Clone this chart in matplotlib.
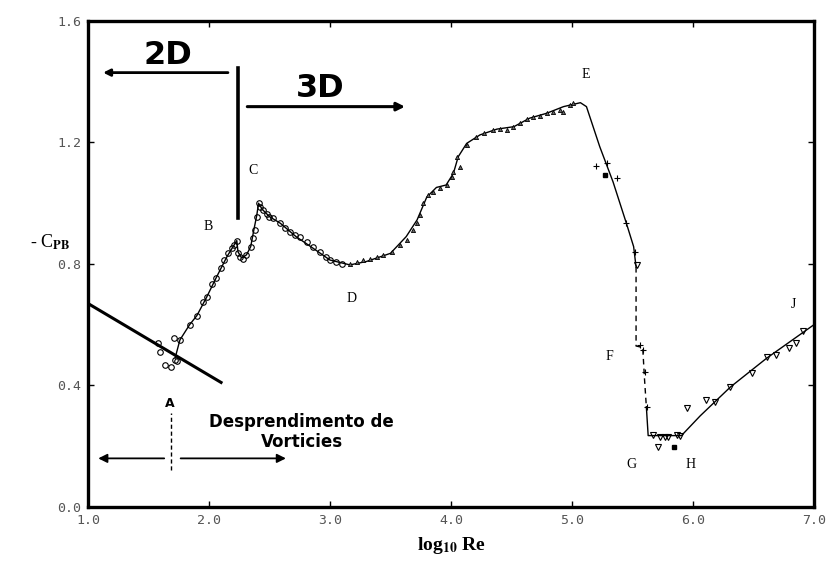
import matplotlib
matplotlib.use("Agg")
import matplotlib.pyplot as plt
import numpy as np

plt.rcParams["mathtext.fontset"] = "stix"

# fitted curve, log10(Re) vs -Cpb
curve_x = [1.72, 1.76, 1.84, 1.90, 1.98, 2.06, 2.15, 2.23, 2.24, 2.27, 2.31, 2.345, 2.37, 2.395, 2.41,
           2.44, 2.50, 2.59, 2.72, 2.86, 3.00, 3.165, 3.30, 3.50, 3.63, 3.72, 3.80, 3.88, 3.96, 4.02,
           4.06, 4.13, 4.24, 4.38, 4.52, 4.65, 4.79, 4.93, 5.07, 5.12, 5.23, 5.34, 5.45, 5.51, 5.53]
curve_y = [0.49, 0.55, 0.60, 0.63, 0.69, 0.755, 0.825, 0.877, 0.84, 0.82, 0.83, 0.857, 0.91, 0.96, 1.0,
           0.98, 0.956, 0.934, 0.89, 0.852, 0.813, 0.797, 0.808, 0.835, 0.89, 0.945, 1.02, 1.052, 1.06, 1.098,
           1.153, 1.197, 1.225, 1.244, 1.252, 1.28, 1.296, 1.318, 1.331, 1.318, 1.186, 1.07, 0.934, 0.857, 0.79]
crisis_x = [5.53, 5.53, 5.585, 5.60, 5.615]
crisis_y = [0.79, 0.53, 0.525, 0.42, 0.33]
tail_x = [5.615, 5.63, 5.905, 6.06, 6.31, 6.61, 7.0]
tail_y = [0.33, 0.235, 0.235, 0.30, 0.395, 0.49, 0.60]

# measured points
circ_x = [1.58, 1.595, 1.636, 1.69, 1.71, 1.72, 1.74, 1.76, 1.843, 1.90, 1.947, 1.98, 2.027, 2.06, 2.096,
          2.124, 2.16, 2.187, 2.207, 2.229, 2.237, 2.256, 2.284, 2.31, 2.344, 2.366, 2.38, 2.394, 2.41,
          2.42, 2.443, 2.476, 2.50, 2.53, 2.587, 2.628, 2.67, 2.71, 2.75, 2.81, 2.862, 2.917, 2.97, 3.0,
          3.05, 3.10]
circ_y = [0.539, 0.511, 0.467, 0.46, 0.555, 0.484, 0.48, 0.55, 0.599, 0.63, 0.676, 0.69, 0.734, 0.755, 0.786,
          0.813, 0.835, 0.852, 0.862, 0.877, 0.837, 0.824, 0.818, 0.83, 0.857, 0.884, 0.912, 0.956, 1.0,
          0.989, 0.978, 0.963, 0.956, 0.95, 0.934, 0.92, 0.906, 0.895, 0.89, 0.873, 0.857, 0.84, 0.824, 0.813,
          0.806, 0.80]
tri_x = [3.165, 3.22, 3.275, 3.33, 3.386, 3.44, 3.51, 3.58, 3.633, 3.69, 3.716, 3.744, 3.77, 3.81, 3.854,
         3.91, 3.964, 4.005, 4.02, 4.074, 4.047, 4.13, 4.21, 4.27, 4.35, 4.405, 4.46, 4.515, 4.57, 4.625,
         4.68, 4.735, 4.79, 4.845, 4.90, 4.93, 4.98, 5.01]
tri_y = [0.80, 0.808, 0.813, 0.818, 0.824, 0.83, 0.84, 0.862, 0.879, 0.912, 0.934, 0.961, 1.0, 1.027, 1.038,
         1.049, 1.06, 1.087, 1.104, 1.12, 1.153, 1.192, 1.219, 1.23, 1.24, 1.244, 1.24, 1.252, 1.263, 1.276,
         1.283, 1.287, 1.296, 1.301, 1.308, 1.30, 1.323, 1.329]
plus_x = [5.203, 5.29, 5.37, 5.45, 5.52, 5.56, 5.59, 5.60, 5.62]
plus_y = [1.122, 1.131, 1.082, 0.934, 0.84, 0.533, 0.517, 0.445, 0.33]
itri_x = [5.535, 5.67, 5.727, 5.77, 5.795, 5.865, 5.89, 5.71, 5.95, 6.107, 6.18, 6.306, 6.485, 6.61,
          6.69, 6.79, 6.85, 6.906]
itri_y = [0.797, 0.237, 0.232, 0.232, 0.232, 0.237, 0.234, 0.199, 0.325, 0.352, 0.347, 0.396, 0.44, 0.495,
          0.50, 0.522, 0.541, 0.579]
sq_x = [5.27, 5.84]
sq_y = [1.093, 0.199]

# laminar trend line through A
lam_x = [1.0, 2.10]
lam_y = [0.67, 0.41]

point_labels = {"B": (1.99, 0.925), "C": (2.364, 1.109), "D": (3.18, 0.688), "E": (5.116, 1.425),
                "F": (5.31, 0.497), "G": (5.49, 0.14), "H": (5.98, 0.14), "J": (6.83, 0.665)}

xticks = [1.0, 2.0, 3.0, 4.0, 5.0, 6.0, 7.0]
yticks = [0.0, 0.4, 0.8, 1.2, 1.6]

fig = plt.figure(figsize=(8.33, 5.64), dpi=100)
ax = fig.add_axes([0.1056, 0.1011, 0.8715, 0.8617])

ax.plot(curve_x, curve_y, "-", color="black", lw=1.0)
ax.plot(crisis_x, crisis_y, "--", color="black", lw=1.0, dashes=(4, 3))
ax.plot(tail_x, tail_y, "-", color="black", lw=1.0)
ax.plot(lam_x, lam_y, "-", color="black", lw=2.2)

ax.plot(circ_x, circ_y, "o", mfc="none", mec="black", ms=4, mew=0.8)
ax.plot(tri_x, tri_y, "^", mfc="#666666", mec="black", ms=3, mew=0.6)
ax.plot(plus_x, plus_y, "+", color="black", ms=4, mew=0.8)
ax.plot(itri_x, itri_y, "v", mfc="none", mec="black", ms=5, mew=0.8)
ax.plot(sq_x, sq_y, "s", color="black", ms=2.5)

for name, (px, py) in point_labels.items():
    ax.text(px, py, name, fontsize=10, family="Liberation Serif", ha="center", va="center")

# 2D / 3D regime markers
ax.annotate("", xy=(1.125, 1.43), xytext=(2.157, 1.43),
            arrowprops=dict(arrowstyle="-|>", lw=2, color="black", mutation_scale=10,
                            shrinkA=0, shrinkB=0))
ax.annotate("", xy=(3.62, 1.318), xytext=(2.317, 1.318),
            arrowprops=dict(arrowstyle="-|>", lw=2.2, color="black", mutation_scale=12,
                            shrinkA=0, shrinkB=0))
ax.plot([2.242, 2.242], [0.95, 1.445], "-", color="black", lw=2.6)
ax.text(1.66, 1.488, "2D", fontsize=23, fontweight="bold", ha="center", va="center")
ax.text(2.917, 1.378, "3D", fontsize=23, fontweight="bold", ha="center", va="center")

# vortex shedding onset
ax.text(1.678, 0.341, "A", fontsize=9, fontweight="bold", ha="center", va="center")
ax.plot([1.69, 1.69], [0.122, 0.308], "--", color="black", lw=1, dashes=(3, 2))
ax.annotate("", xy=(1.085, 0.16), xytext=(1.63, 0.16),
            arrowprops=dict(arrowstyle="-|>", lw=1.3, color="black", mutation_scale=13,
                            shrinkA=0, shrinkB=0))
ax.annotate("", xy=(2.636, 0.16), xytext=(1.766, 0.16),
            arrowprops=dict(arrowstyle="-|>", lw=1.3, color="black", mutation_scale=13,
                            shrinkA=0, shrinkB=0))
ax.text(2.766, 0.248, "Desprendimento de\nVorticies", fontsize=12, fontweight="bold",
        ha="center", va="center", linespacing=1.15)

ax.set_xlim(1.0, 7.0)
ax.set_ylim(0.0, 1.6)
ax.set_xticks(xticks)
ax.set_yticks(yticks)
ax.set_xticklabels([f"{t:.1f}" for t in xticks], family="DejaVu Sans Mono", color="#555555", fontsize=9.5)
ax.set_yticklabels([f"{t:.1f}" for t in yticks], family="DejaVu Sans Mono", color="#555555", fontsize=9.5)
ax.tick_params(direction="in", length=4, width=1, top=True, right=True, pad=5)
for sp in ax.spines.values():
    sp.set_linewidth(2.4)

ax.set_xlabel(r"log$_{\mathbf{10}}$ Re", family="Liberation Serif", fontsize=14, fontweight="bold",
              labelpad=6)
fig.text(0.036, 0.571, r"- C$_{\mathbf{PB}}$", family="Liberation Serif", fontsize=13,
         ha="left", va="center")

fig.savefig("out.png", dpi=100)
